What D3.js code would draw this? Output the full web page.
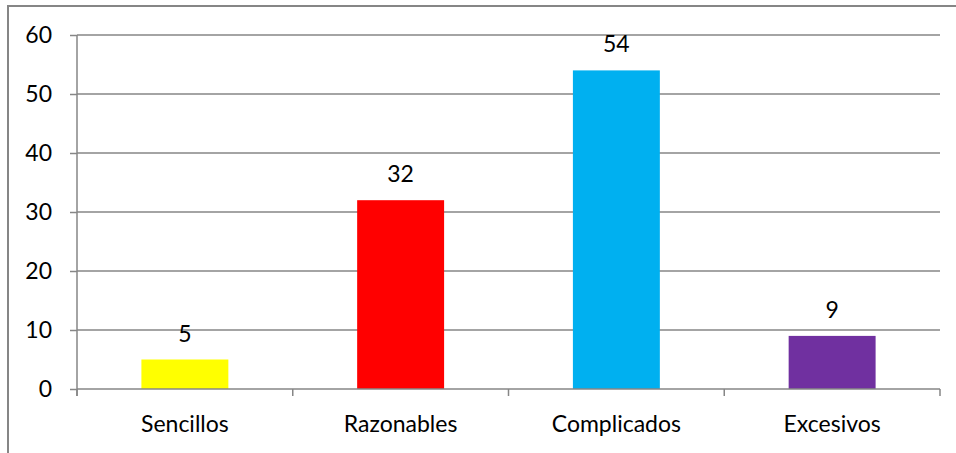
<!DOCTYPE html>
<html>
<head>
<meta charset="utf-8">
<script src="https://cdn.jsdelivr.net/npm/d3@7"></script>
<style>
  body { margin: 0; background: #fff; }
  text { font-family: Lato, "Open Sans", sans-serif; fill: #000; }
</style>
</head>
<body>
<script>
var categories = ["Sencillos", "Razonables", "Complicados", "Excesivos"];
var values = [5, 32, 54, 9];
var colors = ["#FFFF00", "#FF0000", "#00B0F0", "#7030A0"];
var yTicks = [0, 10, 20, 30, 40, 50, 60];

var svgWidth = 956;
var svgHeight = 453;

var Margin = { top: 35, right: 16, bottom: 64, left: 77 };
var Width = 940 - Margin.left;
var Height = 389 - Margin.top;

var svg = d3.select("body")
  .append("svg")
  .attr("width", svgWidth)
  .attr("height", svgHeight);

// outer frame (runs off the right and bottom edges)
svg.append("rect")
  .attr("x", 8).attr("y", 6)
  .attr("width", 970).attr("height", 470)
  .attr("fill", "none")
  .attr("stroke", "#868686")
  .attr("stroke-width", 2);

var chartGroup = svg.append("g")
  .attr("transform", `translate(${Margin.left}, ${Margin.top})`);

var xScale = d3.scaleBand()
  .domain(categories)
  .range([0, Width])
  .paddingInner(0.597)
  .paddingOuter(0.2985);

var yScale = d3.scaleLinear()
  .domain([0, 60])
  .range([Height, 0]);

// gridlines
chartGroup.selectAll(".grid")
  .data(yTicks.slice(1))
  .enter()
  .append("line")
  .attr("x1", 0).attr("x2", Width)
  .attr("y1", d => yScale(d)).attr("y2", d => yScale(d))
  .attr("stroke", "#868686")
  .attr("stroke-width", 1.5);

// y axis
var leftAxis = d3.axisLeft(yScale).tickValues(yTicks).tickSize(7).tickPadding(18);
var yAxis = chartGroup.append("g").call(leftAxis);
yAxis.select(".domain").remove();
yAxis.append("line")
  .attr("x1", 0).attr("x2", 0).attr("y1", 0).attr("y2", Height + 7);
yAxis.selectAll("line").attr("stroke", "#868686").attr("stroke-width", 1.5);
yAxis.selectAll("text").style("font-size", "23px").attr("fill", "#000");

// bars
chartGroup.selectAll(".bar")
  .data(values)
  .enter()
  .append("rect")
  .attr("x", (d, i) => xScale(categories[i]))
  .attr("width", xScale.bandwidth())
  .attr("y", d => yScale(d))
  .attr("height", d => Height - yScale(d))
  .attr("fill", (d, i) => colors[i]);

// x axis
var bounds = [0, 1, 2, 3, 4].map(i => i * Width / 4);
var xAxis = chartGroup.append("g").attr("transform", `translate(0, ${Height})`);
xAxis.append("line")
  .attr("x1", 0).attr("x2", Width).attr("y1", 0).attr("y2", 0);
xAxis.selectAll(".tk")
  .data(bounds)
  .enter()
  .append("line")
  .attr("x1", d => d).attr("x2", d => d).attr("y1", 0).attr("y2", 7);
xAxis.selectAll("line").attr("stroke", "#868686").attr("stroke-width", 1.5);
xAxis.selectAll(".lbl")
  .data(categories)
  .enter()
  .append("text")
  .attr("x", d => xScale(d) + xScale.bandwidth() / 2)
  .attr("y", 43)
  .style("text-anchor", "middle")
  .style("font-size", "23px")
  .text(d => d);

// value labels
chartGroup.selectAll(".val")
  .data(values)
  .enter()
  .append("text")
  .attr("x", (d, i) => xScale(categories[i]) + xScale.bandwidth() / 2)
  .attr("y", d => yScale(d) - 18)
  .style("text-anchor", "middle")
  .style("font-size", "23px")
  .text(d => d);
</script>
</body>
</html>
